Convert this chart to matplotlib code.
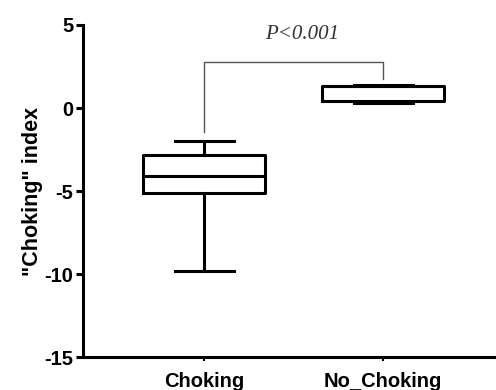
import matplotlib
matplotlib.use("Agg")
import matplotlib.pyplot as plt

plt.rcParams["axes.unicode_minus"] = False

# group names and box statistics
groups = ["Choking", "No_Choking"]
whisker_low = [-9.8, 0.28]
quart_low = [-5.15, 0.45]
medians = [-4.12, 1.32]
quart_high = [-2.82, 1.32]
whisker_high = [-1.98, 1.40]

# significance bracket (left leg, top, right leg) and label
bracket_x = [1, 1, 2, 2]
bracket_y = [-1.45, 2.75, 2.75, 1.75]
p_text = "P<0.001"

stats = []
for i, name in enumerate(groups):
    stats.append({
        "label": name,
        "whislo": whisker_low[i],
        "q1": quart_low[i],
        "med": medians[i],
        "q3": quart_high[i],
        "whishi": whisker_high[i],
    })

fig = plt.figure(figsize=(4.96, 3.90), dpi=100)
ax = fig.add_axes([0.1673, 0.0846, 0.8327, 0.8513])

lw = 2.2
line_style = dict(color="black", linewidth=lw)
ax.bxp(stats, positions=[1, 2], widths=0.68, capwidths=0.33, showfliers=False,
       boxprops=line_style, whiskerprops=line_style, capprops=line_style,
       medianprops=line_style)

ax.plot(bracket_x, bracket_y, color="#555555", linewidth=1.0)
ax.text(1.55, 4.4, p_text, ha="center", va="center", fontsize=15,
        family="Liberation Serif", style="italic", color="#333333")

ax.set_xlim(0.324, 2.63)
ax.set_ylim(-15, 5)
ax.set_yticks([-15, -10, -5, 0, 5])
ax.set_xticks([1, 2])
ax.set_xticklabels(groups)

for s in ["top", "right"]:
    ax.spines[s].set_visible(False)
for s in ["left", "bottom"]:
    ax.spines[s].set_linewidth(lw)

ax.tick_params(axis="y", length=5, width=lw, pad=2)
ax.tick_params(axis="x", length=3, width=1.5, pad=8)
for lab in ax.get_yticklabels() + ax.get_xticklabels():
    lab.set_family("Liberation Sans")
    lab.set_fontweight("bold")
    lab.set_fontsize(14.5)

ax.set_ylabel('"Choking" index', family="Liberation Sans", fontweight="bold",
              fontsize=15.5, labelpad=1)

fig.savefig("out.png", dpi=100)
